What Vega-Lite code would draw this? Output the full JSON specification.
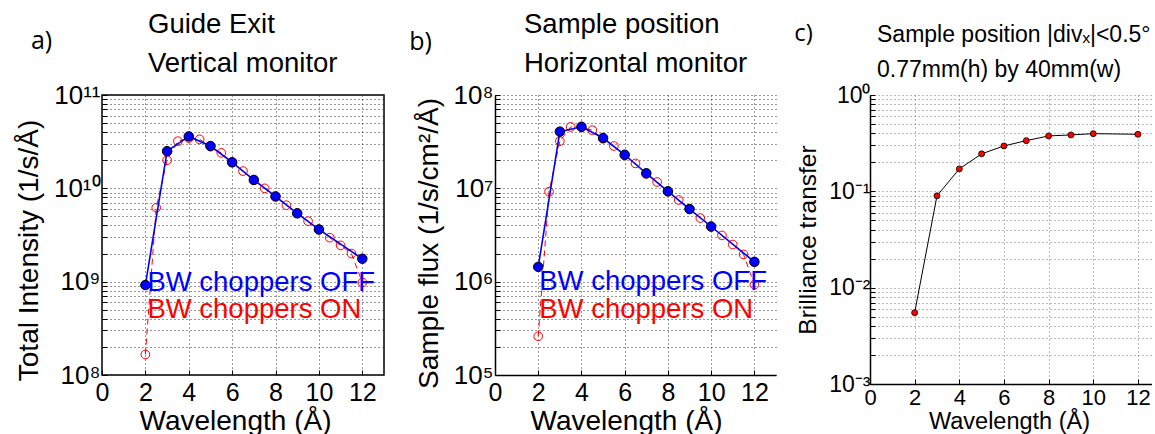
{
  "$schema": "https://vega.github.io/schema/vega-lite/v6.json",
  "background": "white",
  "padding": {"left": 14, "top": 9, "right": 0, "bottom": 0},
  "config": {
    "font": "Liberation Sans",
    "view": {"stroke": "black", "strokeWidth": 1.5},
    "axis": {
      "labelColor": "black", "titleColor": "black", "titleFontWeight": "normal",
      "tickColor": "black", "tickSize": -5, "grid": true, "gridDash": [1, 3],
      "gridColor": "#333", "domain": false, "labelOverlap": false, "labelFlush": false
    },
    "title": {"color": "black", "fontWeight": "normal"}
  },
  "datasets": {
    "aOff": [
      {"wl": 2, "v": 9.2e8}, {"wl": 3, "v": 2.5e10}, {"wl": 4, "v": 3.6e10}, {"wl": 5, "v": 2.84e10},
      {"wl": 6, "v": 1.9e10}, {"wl": 7, "v": 1.23e10}, {"wl": 8, "v": 8.2e9}, {"wl": 9, "v": 5.4e9},
      {"wl": 10, "v": 3.63e9}, {"wl": 12, "v": 1.76e9}
    ],
    "aOn": [
      {"wl": 2, "v": 1.66e8}, {"wl": 2.5, "v": 6.2e9}, {"wl": 3, "v": 2.0e10}, {"wl": 3.5, "v": 3.2e10},
      {"wl": 4, "v": 3.45e10}, {"wl": 4.5, "v": 3.35e10}, {"wl": 5, "v": 2.8e10}, {"wl": 5.5, "v": 2.4e10},
      {"wl": 6, "v": 1.9e10}, {"wl": 6.5, "v": 1.53e10}, {"wl": 7, "v": 1.22e10}, {"wl": 7.5, "v": 1.0e10},
      {"wl": 8, "v": 8.1e9}, {"wl": 8.5, "v": 6.6e9}, {"wl": 9, "v": 5.4e9}, {"wl": 9.5, "v": 4.45e9},
      {"wl": 10, "v": 3.6e9}, {"wl": 10.5, "v": 2.96e9}, {"wl": 11, "v": 2.45e9}, {"wl": 11.5, "v": 2.0e9},
      {"wl": 12, "v": 9.8e8}
    ],
    "bOff": [
      {"wl": 2, "v": 1.44e6}, {"wl": 3, "v": 4.05e7}, {"wl": 4, "v": 4.57e7}, {"wl": 5, "v": 3.46e7},
      {"wl": 6, "v": 2.29e7}, {"wl": 7, "v": 1.45e7}, {"wl": 8, "v": 9.3e6}, {"wl": 9, "v": 6.0e6},
      {"wl": 10, "v": 3.9e6}, {"wl": 12, "v": 1.63e6}
    ],
    "bOn": [
      {"wl": 2, "v": 2.6e5}, {"wl": 2.5, "v": 9.2e6}, {"wl": 3, "v": 3.2e7}, {"wl": 3.5, "v": 4.55e7},
      {"wl": 4, "v": 4.5e7}, {"wl": 4.5, "v": 4.2e7}, {"wl": 5, "v": 3.4e7}, {"wl": 5.5, "v": 2.84e7},
      {"wl": 6, "v": 2.25e7}, {"wl": 6.5, "v": 1.85e7}, {"wl": 7, "v": 1.43e7}, {"wl": 7.5, "v": 1.17e7},
      {"wl": 8, "v": 9.2e6}, {"wl": 8.5, "v": 7.5e6}, {"wl": 9, "v": 6.0e6}, {"wl": 9.5, "v": 4.8e6},
      {"wl": 10, "v": 3.85e6}, {"wl": 10.5, "v": 3.13e6}, {"wl": 11, "v": 2.5e6}, {"wl": 11.5, "v": 1.96e6},
      {"wl": 12, "v": 9.3e5}
    ],
    "cBT": [
      {"wl": 2, "v": 0.0055}, {"wl": 3, "v": 0.0898}, {"wl": 4, "v": 0.171}, {"wl": 5, "v": 0.245},
      {"wl": 6, "v": 0.296}, {"wl": 7, "v": 0.336}, {"wl": 8, "v": 0.376}, {"wl": 9, "v": 0.385},
      {"wl": 10, "v": 0.397}, {"wl": 12, "v": 0.391}
    ]
  },
  "bounds": "flush",
  "spacing": 94,
  "hconcat": [
    {
      "width": 282,
      "height": 280,
      "title": {"text": ["Guide Exit", "Vertical monitor"], "anchor": "start", "frame": "group", "dx": 46, "fontSize": 27.5, "lineHeight": 39, "offset": -49},
      "resolve": {"axis": {"x": "independent"}},
      "layer": [
        {
          "encoding": {
            "x": {"field": "wl", "type": "quantitative", "scale": {"domain": [0, 13], "nice": false},
              "axis": {"values": [0, 2, 4, 6, 8, 10, 12], "title": "Wavelength (Å)", "labelFontSize": 25, "labelPadding": 10, "titleFontSize": 28, "titlePadding": 2, "titleX": 133}},
            "y": {"field": "v", "type": "quantitative", "scale": {"type": "log", "domain": [1e8, 1e11], "nice": false},
              "axis": {"values": [1e8, 2e8, 3e8, 4e8, 5e8, 6e8, 7e8, 8e8, 9e8, 1e9, 2e9, 3e9, 4e9, 5e9, 6e9, 7e9, 8e9, 9e9, 1e10, 2e10, 3e10, 4e10, 5e10, 6e10, 7e10, 8e10, 9e10, 1e11],
                "labelExpr": "datum.value == 1e8 ? '10⁸' : datum.value == 1e9 ? '10⁹' : datum.value == 1e10 ? '10¹⁰' : datum.value == 1e11 ? '10¹¹' : ''",
                "title": "Total Intensity (1/s/Å)", "labelFontSize": 26, "labelPadding": 7, "titleFontSize": 28, "titlePadding": 10, "titleY": 155}}
          },
          "layer": [
            {"data": {"name": "aOn"}, "mark": {"type": "line", "color": "red", "strokeWidth": 1, "strokeDash": [6, 4]}},
            {"data": {"name": "aOn"}, "mark": {"type": "point", "shape": "circle", "filled": false, "stroke": "red", "strokeWidth": 1, "size": 75, "opacity": 1}},
            {"data": {"name": "aOff"}, "mark": {"type": "line", "color": "blue", "strokeWidth": 1.6}},
            {"data": {"name": "aOff"}, "mark": {"type": "point", "shape": "circle", "filled": true, "fill": "blue", "stroke": "black", "strokeWidth": 1, "size": 90, "opacity": 1}},
            {"data": {"name": "aOff"}, "transform": [{"filter": "datum.wl == 2"}],
              "mark": {"type": "text", "text": "BW choppers ON", "color": "red", "fontSize": 27.5, "align": "left", "baseline": "middle", "dx": 2, "dy": 25}}
          ]
        },
        {
          "data": {"name": "aOff"},
          "transform": [{"filter": "datum.wl == 2"}],
          "mark": {"type": "text", "text": "BW choppers OFF", "color": "blue", "fontSize": 27.5, "align": "left", "baseline": "middle", "dx": 2, "dy": -2},
          "encoding": {
            "x": {"field": "wl", "type": "quantitative", "scale": {"domain": [0, 13], "nice": false},
              "axis": {"orient": "top", "title": "a)", "labels": false, "ticks": false, "domain": false, "grid": false,
                "titleFont": "Open Sans", "titleFontSize": 25, "titleX": -61, "titleY": -47, "titleAlign": "center", "titleBaseline": "alphabetic", "titleAngle": 0}},
            "y": {"field": "v", "type": "quantitative", "scale": {"type": "log", "domain": [1e8, 1e11], "nice": false}}
          }
        }
      ]
    },
    {
      "width": 298,
      "height": 280,
      "view": {"stroke": null},
      "title": {"text": ["Sample position", "Horizontal monitor"], "anchor": "start", "frame": "group", "dx": 46, "fontSize": 27.5, "lineHeight": 39, "offset": -48},
      "resolve": {"axis": {"x": "independent"}},
      "layer": [
        {
          "encoding": {
            "x": {"field": "wl", "type": "quantitative", "scale": {"domain": [0, 13], "range": [17, 298], "nice": false},
              "axis": {"values": [0, 2, 4, 6, 8, 10, 12], "title": "Wavelength (Å)", "labelFontSize": 25, "labelPadding": 10, "titleFontSize": 28, "titlePadding": 2, "titleX": 148,
                "domain": true, "domainColor": "black", "domainWidth": 1.5}},
            "y": {"field": "v", "type": "quantitative", "scale": {"type": "log", "domain": [1e5, 1e8], "nice": false},
              "axis": {"values": [1e5, 2e5, 3e5, 4e5, 5e5, 6e5, 7e5, 8e5, 9e5, 1e6, 2e6, 3e6, 4e6, 5e6, 6e6, 7e6, 8e6, 9e6, 1e7, 2e7, 3e7, 4e7, 5e7, 6e7, 7e7, 8e7, 9e7, 1e8],
                "labelExpr": "datum.value == 1e5 ? '10⁵' : datum.value == 1e6 ? '10⁶' : datum.value == 1e7 ? '10⁷' : datum.value == 1e8 ? '10⁸' : ''",
                "title": "Sample flux (1/s/cm²/Å)", "labelFontSize": 26, "labelPadding": 7, "titleFontSize": 28, "titlePadding": 10, "titleY": 148,
                "offset": -17, "domain": true, "domainColor": "black", "domainWidth": 1.5}}
          },
          "layer": [
            {"data": {"values": [{"edge": "top"}]}, "mark": {"type": "rule", "color": "black", "strokeWidth": 1.5},
              "encoding": {"x": {"datum": 0, "type": "quantitative"}, "x2": {"datum": 13}, "y": {"datum": 1e8, "type": "quantitative"}}},
            {"data": {"values": [{"edge": "right"}]}, "mark": {"type": "rule", "color": "black", "strokeWidth": 1.5},
              "encoding": {"x": {"datum": 13, "type": "quantitative"}, "y": {"datum": 1e5, "type": "quantitative"}, "y2": {"datum": 1e8}}},
            {"data": {"name": "bOn"}, "mark": {"type": "line", "color": "red", "strokeWidth": 1, "strokeDash": [6, 4]}},
            {"data": {"name": "bOn"}, "mark": {"type": "point", "shape": "circle", "filled": false, "stroke": "red", "strokeWidth": 1, "size": 75, "opacity": 1}},
            {"data": {"name": "bOff"}, "mark": {"type": "line", "color": "blue", "strokeWidth": 1.6}},
            {"data": {"name": "bOff"}, "mark": {"type": "point", "shape": "circle", "filled": true, "fill": "blue", "stroke": "black", "strokeWidth": 1, "size": 90, "opacity": 1}},
            {"data": {"name": "bOff"}, "transform": [{"filter": "datum.wl == 2"}],
              "mark": {"type": "text", "text": "BW choppers ON", "color": "red", "fontSize": 27.5, "align": "left", "baseline": "middle", "dx": 1, "dy": 43}}
          ]
        },
        {
          "data": {"name": "bOff"},
          "transform": [{"filter": "datum.wl == 2"}],
          "mark": {"type": "text", "text": "BW choppers OFF", "color": "blue", "fontSize": 27.5, "align": "left", "baseline": "middle", "dx": 1, "dy": 15},
          "encoding": {
            "x": {"field": "wl", "type": "quantitative", "scale": {"domain": [0, 13], "range": [17, 298], "nice": false},
              "axis": {"orient": "top", "title": "b)", "labels": false, "ticks": false, "domain": false, "grid": false,
                "titleFont": "Open Sans", "titleFontSize": 25, "titleX": -58, "titleY": -46, "titleAlign": "center", "titleBaseline": "alphabetic", "titleAngle": 0}},
            "y": {"field": "v", "type": "quantitative", "scale": {"type": "log", "domain": [1e5, 1e8], "nice": false}}
          }
        }
      ]
    },
    {
      "width": 282,
      "height": 289,
      "view": {"stroke": null},
      "title": {"text": ["Sample position |divₓ|<0.5°", "0.77mm(h) by 40mm(w)"], "anchor": "start", "frame": "group", "dx": 7, "fontSize": 23, "lineHeight": 35, "offset": -61},
      "resolve": {"axis": {"x": "independent"}},
      "layer": [
        {
          "encoding": {
            "x": {"field": "wl", "type": "quantitative", "scale": {"domain": [0, 12.63], "nice": false},
              "axis": {"values": [0, 2, 4, 6, 8, 10, 12], "title": "Wavelength (Å)", "labelFontSize": 22, "labelPadding": 8, "titleFontSize": 23.5, "titlePadding": 1, "titleX": 139,
                "domain": true, "domainColor": "black", "domainWidth": 1.5, "gridColor": "#777"}},
            "y": {"field": "v", "type": "quantitative", "scale": {"type": "log", "domain": [0.001, 1], "nice": false},
              "axis": {"values": [0.001, 0.002, 0.003, 0.004, 0.005, 0.006, 0.007, 0.008, 0.009, 0.01, 0.02, 0.03, 0.04, 0.05, 0.06, 0.07, 0.08, 0.09, 0.1, 0.2, 0.3, 0.4, 0.5, 0.6, 0.7, 0.8, 0.9, 1],
                "labelExpr": "datum.value == 0.001 ? '10⁻³' : datum.value == 0.01 ? '10⁻²' : datum.value == 0.1 ? '10⁻¹' : datum.value == 1 ? '10⁰' : ''",
                "title": "Brilliance transfer", "labelFontSize": 23, "labelPadding": 5, "titleFontSize": 24.5, "titlePadding": 8,
                "domain": true, "domainColor": "black", "domainWidth": 1.5, "gridColor": "#777"}}
          },
          "layer": [
            {"data": {"values": [{"edge": "top"}]}, "mark": {"type": "rule", "color": "black", "strokeWidth": 1.5},
              "encoding": {"x": {"datum": 0, "type": "quantitative"}, "x2": {"datum": 12.63}, "y": {"datum": 1, "type": "quantitative"}}},
            {"data": {"name": "cBT"}, "mark": {"type": "line", "color": "black", "strokeWidth": 1}}
          ]
        },
        {
          "data": {"name": "cBT"},
          "mark": {"type": "point", "shape": "circle", "filled": true, "fill": "red", "stroke": "black", "strokeWidth": 0.8, "size": 36, "opacity": 1},
          "encoding": {
            "x": {"field": "wl", "type": "quantitative", "scale": {"domain": [0, 12.63], "nice": false},
              "axis": {"orient": "top", "title": "c)", "labels": false, "ticks": false, "domain": false, "grid": false,
                "titleFont": "Open Sans", "titleFontSize": 24, "titleX": -67, "titleY": -55, "titleAlign": "center", "titleBaseline": "alphabetic", "titleAngle": 0}},
            "y": {"field": "v", "type": "quantitative", "scale": {"type": "log", "domain": [0.001, 1], "nice": false}}
          }
        }
      ]
    }
  ]
}
